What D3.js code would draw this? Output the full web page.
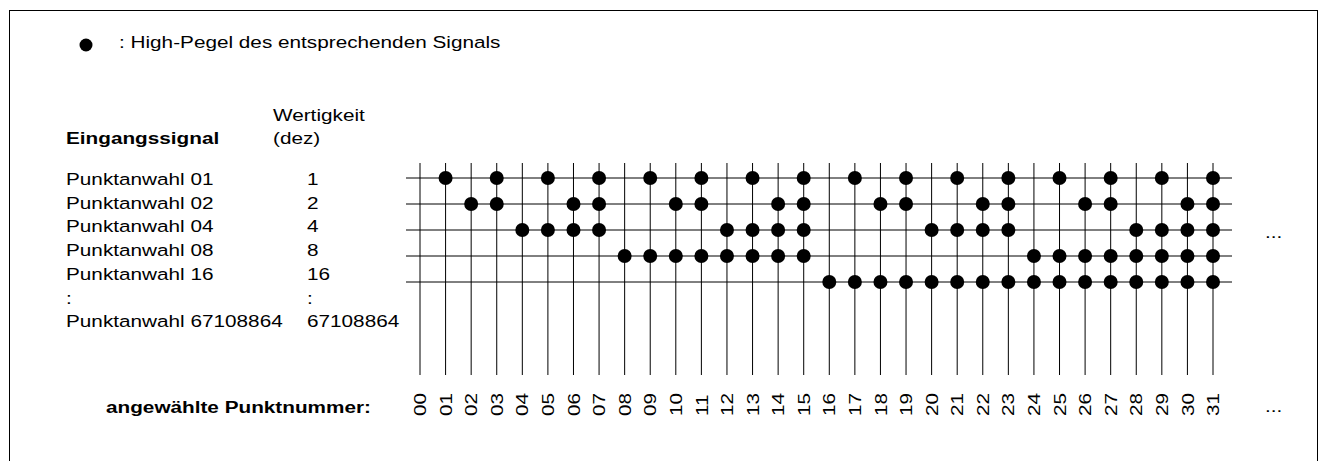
<!DOCTYPE html>
<html>
<head>
<meta charset="utf-8">
<script src="https://cdn.jsdelivr.net/npm/d3@7"></script>
<style>
  body { margin: 0; background: #fff; }
  svg text { font-family: "Liberation Sans", Arial, Helvetica, sans-serif; fill: #000; }
</style>
</head>
<body>
<svg id="chart-svg" width="1319" height="461"></svg>
<script>
// punkt numbers on the bottom axis
const punktNummern = ["00","01","02","03","04","05","06","07","08","09","10","11","12","13","14","15",
  "16","17","18","19","20","21","22","23","24","25","26","27","28","29","30","31"];

// input signals (rows) and their weights
const signalNamen = ["Punktanwahl 01", "Punktanwahl 02", "Punktanwahl 04", "Punktanwahl 08", "Punktanwahl 16"];
const wertigkeiten = ["1", "2", "4", "8", "16"];

// high level per row, one char per punkt number 00..31
const highPegel = [
  "01010101010101010101010101010101",
  "00110011001100110011001100110011",
  "00001111000011110000111100001111",
  "00000000111111110000000011111111",
  "00000000000000001111111111111111"
];

const fontSize = 17;
const stretch = 1.22;

const svg = d3.select("#chart-svg");

// frame
svg.append("rect")
  .attr("x", 9.5).attr("y", 10.5)
  .attr("width", 1308).attr("height", 520)
  .style("fill", "none").style("stroke", "#000").style("stroke-width", 1);

function label(x, y, txt, bold) {
  return svg.append("text")
    .attr("transform", `translate(${x},${y}) scale(${stretch},1)`)
    .style("font-size", fontSize + "px")
    .style("font-weight", bold ? "bold" : "normal")
    .text(txt);
}

// legend
svg.append("circle").attr("cx", 86).attr("cy", 45).attr("r", 6.5).style("fill", "#000");
label(119, 48, ": High-Pegel des entsprechenden Signals");

// left table
label(66, 144, "Eingangssignal", true);
label(273, 121, "Wertigkeit");
label(273, 144, "(dez)");

const textRow = d3.scaleLinear().domain([0, 1]).range([185, 208.7]);
signalNamen.forEach((n, i) => {
  label(66, textRow(i), n);
  label(307, textRow(i), wertigkeiten[i]);
});
label(66, textRow(5), ":");
label(307, textRow(5), ":");
label(66, textRow(6), "Punktanwahl 67108864");
label(307, textRow(6), "67108864");

// grid scales
const x = d3.scaleLinear().domain([0, punktNummern.length - 1]).range([420, 1213]);
const y = d3.scaleLinear().domain([0, signalNamen.length - 1]).range([178, 282]);

svg.append("g")
  .selectAll("line")
  .data(punktNummern)
  .join("line")
  .attr("x1", (d, i) => x(i)).attr("x2", (d, i) => x(i))
  .attr("y1", 163).attr("y2", 375)
  .style("stroke", "#000").style("stroke-width", 1);

svg.append("g")
  .selectAll("line")
  .data(signalNamen)
  .join("line")
  .attr("x1", 406).attr("x2", 1232)
  .attr("y1", (d, i) => y(i)).attr("y2", (d, i) => y(i))
  .style("stroke", "#000").style("stroke-width", 1);

// dots
const dots = [];
highPegel.forEach((row, r) => {
  row.split("").forEach((v, c) => { if (v === "1") dots.push({ r, c }); });
});
svg.append("g")
  .selectAll("circle")
  .data(dots)
  .join("circle")
  .attr("cx", d => x(d.c))
  .attr("cy", d => y(d.r))
  .attr("r", 7)
  .style("fill", "#000");

// bottom labels
label(106, 413, "angewählte Punktnummer:", true);

svg.append("g")
  .selectAll("text")
  .data(punktNummern)
  .join("text")
  .attr("transform", (d, i) => `translate(${x(i)},416) rotate(-90) scale(${stretch},1)`)
  .attr("dy", "0.36em")
  .style("font-size", fontSize + "px")
  .text(d => d);

label(1265, 238, "...");
label(1265, 412, "...");
</script>
</body>
</html>
